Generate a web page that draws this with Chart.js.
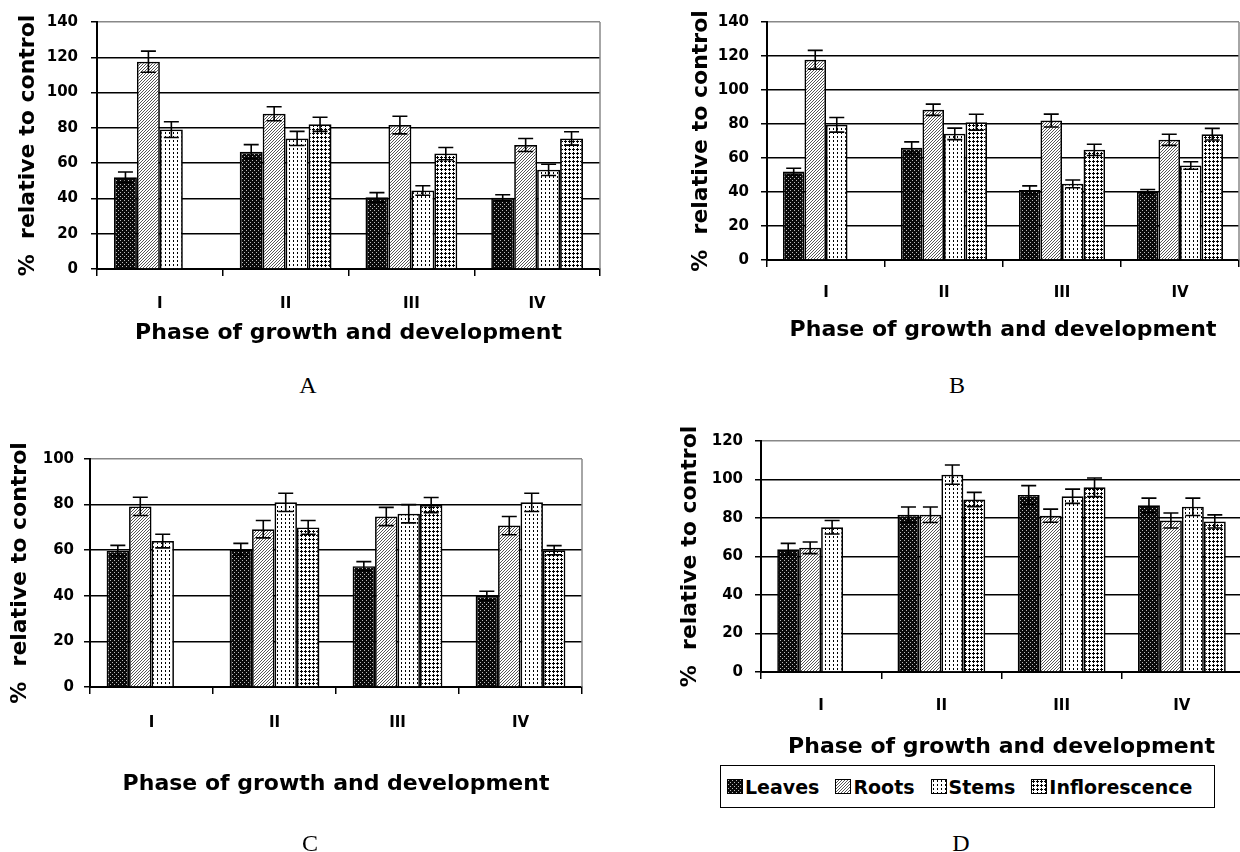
<!DOCTYPE html>
<html lang="en">
  <head>
    <meta charset="UTF-8" />
    <title>Phase of growth and development</title>
    <script src="https://cdn.jsdelivr.net/npm/chart.js"></script>
    <style>
      body { margin: 0; width: 1240px; height: 852px; overflow: hidden; background: #fff; position: relative; }
      .panel { position: absolute; }
      .letter { position: absolute; font: 24px "Liberation Serif", serif; color: #000; transform: translate(-50%, -50%); }
      #legend {
        position: absolute; left: 720px; top: 765px; width: 495px; height: 43px; box-sizing: border-box;
        border: 1.5px solid #000; display: flex; align-items: center; padding-left: 6px;
        font: bold 19px "DejaVu Sans", sans-serif; color: #000;
      }
      #legend .item { display: flex; align-items: center; margin-right: 16px; }
      #legend canvas { border: 1px solid #000; margin-right: 2px; }
    </style>
  </head>
  <body>
    <div class="panel" style="left:0px; top:0px"><canvas id="chartA" width="620" height="352"></canvas></div>
    <div class="panel" style="left:620px; top:0px"><canvas id="chartB" width="620" height="352"></canvas></div>
    <div class="panel" style="left:0px; top:430px"><canvas id="chartC" width="620" height="420"></canvas></div>
    <div class="panel" style="left:620px; top:420px"><canvas id="chartD" width="622" height="340"></canvas></div>
    <div id="legend"></div>
    <div class="letter" style="left:308px; top:385px">A</div>
    <div class="letter" style="left:957px; top:385px">B</div>
    <div class="letter" style="left:310px; top:843px">C</div>
    <div class="letter" style="left:961px; top:843px">D</div>
    <script>
      // 공통 축 라벨
      const categories = ["I", "II", "III", "IV"];
      const seriesNames = ["Leaves", "Roots", "Stems", "Inflorescence"];

      // A
      const aLeaves = [52, 66.5, 40.6, 40.4];
      const aLeavesErr = [3, 4, 2.7, 1.7];
      const aRoots = [117.5, 88, 81.6, 70.3];
      const aRootsErr = [6, 4, 5, 3.7];
      const aStems = [79, 74, 44.5, 56.2];
      const aStemsErr = [4.5, 4, 2.7, 3.2];
      const aInflo = [null, 82, 65.4, 74];
      const aInfloErr = [null, 4, 3.5, 3.8];

      // B
      const bLeaves = [52, 66, 41.2, 40.3];
      const bLeavesErr = [2, 3.5, 2.4, 1.2];
      const bRoots = [117.8, 88.4, 82, 70.7];
      const bRootsErr = [5.5, 3.3, 3.8, 3.3];
      const bStems = [79.5, 74.2, 44.8, 55.6];
      const bStemsErr = [4.3, 3.4, 2.3, 2.2];
      const bInflo = [null, 81, 64.8, 74];
      const bInfloErr = [null, 4.7, 3.3, 3.4];

      // C
      const cLeaves = [59.8, 60.4, 53, 40];
      const cLeavesErr = [2.3, 2.6, 2, 2];
      const cRoots = [79.2, 69.2, 74.8, 70.8];
      const cRootsErr = [4, 3.8, 4, 4];
      const cStems = [64, 81, 76, 81];
      const cStemsErr = [3, 4, 4, 4];
      const cInflo = [null, 70, 79.8, 60];
      const cInfloErr = [null, 3, 3.3, 2];

      // D
      const dLeaves = [63.8, 81.7, 92, 86.6];
      const dLeavesErr = [3, 4, 4.8, 3.7];
      const dRoots = [64.5, 81.7, 81.2, 78.7];
      const dRootsErr = [3, 4, 3.4, 3.9];
      const dStems = [75.2, 102.5, 91.3, 85.8];
      const dStemsErr = [3.5, 5, 3.7, 4.5];
      const dInflo = [null, 89.6, 96, 78.2];
      const dInfloErr = [null, 3.7, 4.8, 3.4];

      const yTicksA = { min: 0, max: 140, step: 20 };
      const yTicksC = { min: 0, max: 100, step: 20 };
      const yTicksD = { min: 0, max: 120, step: 20 };

      // 무늬(패턴) 만들기
      function makePattern(kind) {
        const c = document.createElement("canvas");
        const g = c.getContext("2d");
        if (kind === "leaves") {
          c.width = 4; c.height = 4;
          g.fillStyle = "#0a0a0a"; g.fillRect(0, 0, 4, 4);
          g.fillStyle = "#bbb"; g.fillRect(0, 0, 1, 1); g.fillRect(2, 2, 1, 1);
        } else if (kind === "roots") {
          c.width = 3; c.height = 3;
          g.fillStyle = "#fff"; g.fillRect(0, 0, 3, 3);
          g.fillStyle = "#555";
          g.fillRect(0, 2, 1, 1); g.fillRect(1, 1, 1, 1); g.fillRect(2, 0, 1, 1);
        } else if (kind === "stems") {
          c.width = 4; c.height = 4;
          g.fillStyle = "#fff"; g.fillRect(0, 0, 4, 4);
          g.fillStyle = "#000"; g.fillRect(1, 0, 1, 2);
        } else {
          c.width = 4; c.height = 4;
          g.fillStyle = "#fff"; g.fillRect(0, 0, 4, 4);
          g.fillStyle = "#000";
          g.fillRect(1, 0, 1, 3); g.fillRect(0, 1, 3, 1);
        }
        return g.createPattern(c, "repeat");
      }
      const fills = ["leaves", "roots", "stems", "inflo"].map(makePattern);

      // 오차 막대
      const errorBars = {
        id: "errorBars",
        afterDatasetsDraw(chart) {
          const ctx = chart.ctx;
          const y = chart.scales.y;
          chart.data.datasets.forEach((ds, i) => {
            const meta = chart.getDatasetMeta(i);
            meta.data.forEach((bar, j) => {
              const v = ds.data[j];
              const e = ds.errors[j];
              if (v == null || e == null) return;
              const top = y.getPixelForValue(v + e);
              const bot = y.getPixelForValue(v - e);
              ctx.save();
              ctx.strokeStyle = "#000";
              ctx.lineWidth = 1.6;
              ctx.beginPath();
              ctx.moveTo(bar.x, top); ctx.lineTo(bar.x, bot);
              ctx.moveTo(bar.x - 7.5, top); ctx.lineTo(bar.x + 7.5, top);
              ctx.moveTo(bar.x - 7.5, bot); ctx.lineTo(bar.x + 7.5, bot);
              ctx.stroke();
              ctx.restore();
            });
          });
        },
      };

      // 오른쪽 회색 테두리
      const frame = {
        id: "frame",
        beforeDatasetsDraw(chart) {
          const { ctx, chartArea } = chart;
          ctx.save();
          ctx.strokeStyle = "#888";
          ctx.lineWidth = 1.5;
          ctx.beginPath();
          ctx.moveTo(chartArea.right, chartArea.top);
          ctx.lineTo(chartArea.right, chartArea.bottom);
          ctx.stroke();
          ctx.restore();
        },
      };

      function drawChart(tag, values, errors, yTicks, box) {
        const ctx = document.getElementById(tag);
        const datasets = seriesNames.map((name, i) => ({
          label: name,
          data: values[i],
          errors: errors[i],
          backgroundColor: fills[i],
          borderColor: "#000",
          borderWidth: 1.7,
          borderSkipped: "bottom",
          barPercentage: 1.0,
          categoryPercentage: 0.73,
        }));
        new Chart(ctx, {
          type: "bar",
          data: { labels: categories, datasets: datasets },
          options: {
            responsive: false,
            animation: false,
            layout: { padding: box.padding },
            plugins: { legend: { display: false }, tooltip: { enabled: false } },
            scales: {
              x: {
                grid: { display: true, drawOnChartArea: false, offset: true, color: "#000", lineWidth: 1.5, tickLength: 7 },
                border: { color: "#000", width: 2 },
                ticks: { color: "#000", padding: box.xTickPad, font: { family: "DejaVu Sans", weight: "bold", size: 15 } },
                title: {
                  display: true,
                  text: "Phase of growth and development",
                  color: "#000",
                  padding: 0,
                  font: { family: "DejaVu Sans", weight: "bold", size: 22 },
                },
                afterFit: (s) => { s.height = box.xH; },
              },
              y: {
                min: yTicks.min,
                max: yTicks.max,
                grid: {
                  color: (c) => (c.tick && c.tick.value === yTicks.max ? "#888" : "#000"),
                  tickColor: "#000",
                  lineWidth: 1.5,
                  tickLength: 6,
                },
                border: { color: "#000", width: 2 },
                ticks: { stepSize: yTicks.step, color: "#000", padding: box.yTickPad, font: { family: "DejaVu Sans", weight: "bold", size: 15 } },
                title: {
                  display: true,
                  text: "%  relative to control",
                  color: "#000",
                  padding: { top: box.yTitlePad, bottom: 0 },
                  font: { family: "DejaVu Sans", weight: "bold", size: 22 },
                },
                afterFit: (s) => { s.width = box.yW; },
              },
            },
          },
          plugins: [frame, errorBars],
        });
      }

      drawChart("chartA", [aLeaves, aRoots, aStems, aInflo], [aLeavesErr, aRootsErr, aStemsErr, aInfloErr], yTicksA,
        { padding: { left: 0, right: 20, top: 22, bottom: 6 }, yW: 97, xH: 77, xTickPad: 19, yTickPad: 13, yTitlePad: 15 });
      drawChart("chartB", [bLeaves, bRoots, bStems, bInflo], [bLeavesErr, bRootsErr, bStemsErr, bInfloErr], yTicksA,
        { padding: { left: 0, right: 1, top: 22, bottom: 9 }, yW: 147, xH: 83, xTickPad: 17, yTickPad: 12, yTitlePad: 68 });
      drawChart("chartC", [cLeaves, cRoots, cStems, cInflo], [cLeavesErr, cRootsErr, cStemsErr, cInfloErr], yTicksC,
        { padding: { left: 0, right: 38, top: 29, bottom: 53 }, yW: 90, xH: 110, xTickPad: 20, yTickPad: 10, yTitlePad: 7 });
      drawChart("chartD", [dLeaves, dRoots, dStems, dInflo], [dLeavesErr, dRootsErr, dStemsErr, dInfloErr], yTicksD,
        { padding: { left: 0, right: 0, top: 12, bottom: 0 }, yW: 141, xH: 88, xTickPad: 18, yTickPad: 12, yTitlePad: 57 });

      // 범례 (D 아래)
      const legend = document.getElementById("legend");
      seriesNames.forEach((name, i) => {
        const item = document.createElement("div");
        item.className = "item";
        const sw = document.createElement("canvas");
        sw.width = 14; sw.height = 13;
        const g = sw.getContext("2d");
        g.fillStyle = fills[i];
        g.fillRect(0, 0, 14, 13);
        const label = document.createElement("span");
        label.textContent = name;
        item.appendChild(sw);
        item.appendChild(label);
        legend.appendChild(item);
      });
    </script>
  </body>
</html>
